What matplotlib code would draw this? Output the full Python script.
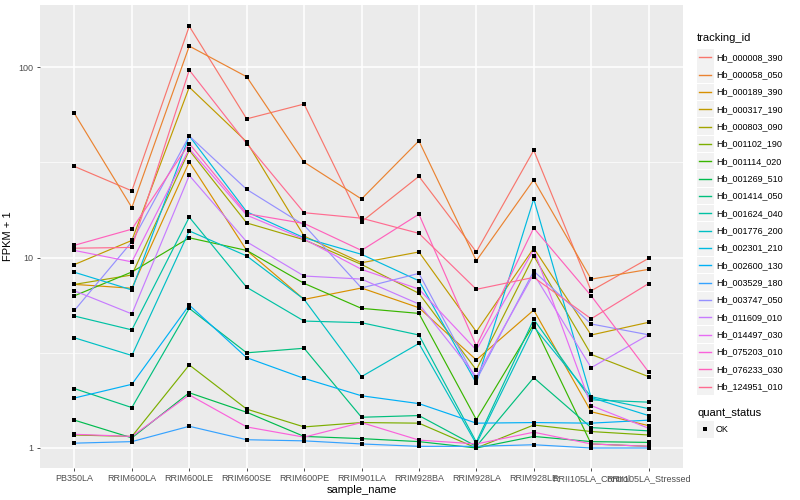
import numpy as np
import matplotlib
matplotlib.use('Agg')
import matplotlib.pyplot as plt
from matplotlib.patches import Rectangle

plt.rcParams['font.family'] = ['Liberation Sans', 'DejaVu Sans']

# %% data (FPKM + 1)
samples = ['PB350LA', 'RRIM600LA', 'RRIM600LE', 'RRIM600SE', 'RRIM600PE',
           'RRIM901LA', 'RRIM928BA', 'RRIM928LA', 'RRIM928LE',
           'RRII105LA_Control', 'RRII105LA_Stressed']

tracking_ids = ['Hb_000008_390', 'Hb_000058_050', 'Hb_000189_390', 'Hb_000317_190',
                'Hb_000803_090', 'Hb_001102_190', 'Hb_001114_020', 'Hb_001269_510',
                'Hb_001414_050', 'Hb_001624_040', 'Hb_001776_200', 'Hb_002301_210',
                'Hb_002600_130', 'Hb_003529_180', 'Hb_003747_050', 'Hb_011609_010',
                'Hb_014497_030', 'Hb_075203_010', 'Hb_076233_030', 'Hb_124951_010']

colors = ['#F8766D', '#EA8331', '#D89000', '#C09B00', '#A3A500', '#7CAE00',
          '#39B600', '#00BB4E', '#00BF7D', '#00C1A3', '#00BFC4', '#00BAE0',
          '#00B0F6', '#35A2FF', '#9590FF', '#C77CFF', '#E76BF3', '#FA62DB',
          '#FF62BC', '#FF6C91']

hb_000008_390 = [30.1, 22.4, 164, 53.5, 64, 15.4, 26.7, 10.7, 36.6, 6.69, 9.9]
hb_000058_050 = [57.1, 18.3, 129, 89, 31.7, 20.3, 41, 9.62, 25.6, 7.7, 8.67]
hb_000189_390 = [7.23, 6.9, 31.8, 10.9, 6.03, 6.92, 5.45, 2.90, 5.30, 1.55, 1.31]
hb_000317_190 = [9.19, 12.3, 78.5, 40.5, 12.97, 9.39, 10.7, 4.08, 11.2, 3.92, 4.57]
hb_000803_090 = [7.23, 8.1, 36.6, 15.2, 12.4, 9.2, 6.49, 2.57, 10.2, 3.10, 2.37]
hb_001102_190 = [1.17, 1.15, 2.73, 1.60, 1.29, 1.36, 1.35, 1.0, 1.32, 1.22, 1.17]
hb_001114_020 = [6.30, 8.4, 12.7, 10.9, 7.32, 5.41, 5.09, 1.41, 4.46, 1.05, 1.02]
hb_001269_510 = [1.40, 1.13, 1.95, 1.54, 1.15, 1.12, 1.08, 1.0, 1.15, 1.08, 1.07]
hb_001414_050 = [2.05, 1.63, 5.41, 3.16, 3.34, 1.45, 1.48, 1.02, 2.34, 1.28, 1.23]
hb_001624_040 = [4.93, 4.17, 16.3, 6.98, 4.64, 4.55, 3.92, 1.075, 4.74, 1.79, 1.74]
hb_001776_200 = [3.79, 3.06, 13.8, 10.2, 6.03, 2.37, 3.54, 1.05, 4.33, 1.86, 1.61]
hb_002301_210 = [8.37, 6.76, 43.5, 17.4, 12.7, 10.4, 7.55, 2.19, 20.3, 1.84, 1.48]
hb_002600_130 = [1.83, 2.16, 5.63, 2.98, 2.32, 1.88, 1.71, 1.35, 1.36, 1.35, 1.40]
hb_003529_180 = [1.06, 1.08, 1.30, 1.105, 1.09, 1.05, 1.02, 1.02, 1.04, 1.0, 1.0]
hb_003747_050 = [5.28, 12.1, 43.5, 22.8, 14.8, 6.92, 8.26, 2.27, 8.49, 4.48, 3.93]
hb_011609_010 = [6.69, 5.06, 27.0, 12.1, 8.0, 7.71, 5.7, 2.37, 8.2, 2.64, 3.93]
hb_014497_030 = [10.9, 9.49, 37.3, 16.7, 12.5, 8.67, 6.83, 3.27, 11.0, 1.67, 1.27]
hb_075203_010 = [1.18, 1.15, 1.90, 1.29, 1.14, 1.36, 1.10, 1.05, 1.21, 1.05, 1.02]
hb_076233_030 = [11.6, 14.1, 39.7, 17.0, 15.1, 10.9, 16.9, 3.43, 14.3, 6.3, 2.51]
hb_124951_010 = [11.2, 11.3, 96.5, 39.7, 17.2, 16.1, 13.4, 6.81, 7.87, 4.77, 7.3]

series = [hb_000008_390, hb_000058_050, hb_000189_390, hb_000317_190,
          hb_000803_090, hb_001102_190, hb_001114_020, hb_001269_510,
          hb_001414_050, hb_001624_040, hb_001776_200, hb_002301_210,
          hb_002600_130, hb_003529_180, hb_003747_050, hb_011609_010,
          hb_014497_030, hb_075203_010, hb_076233_030, hb_124951_010]

# %% plot
fig = plt.figure(figsize=(8, 5), dpi=100)
ax = fig.add_axes([40 / 800, 32 / 500, 643 / 800, 463 / 500])
ax.set_facecolor('#EBEBEB')
for s in ax.spines.values():
    s.set_visible(False)

x = np.arange(len(samples))
for vals, col in zip(series, colors):
    ax.plot(x, vals, color=col, lw=0.85, zorder=3)
for vals in series:
    ax.plot(x, vals, ls='none', marker='s', ms=3.0, mew=0, color='black', zorder=4)

ax.set_yscale('log')
ax.set_ylim(0.785, 212)
ax.set_xlim(-0.6, len(samples) - 0.4)

ax.set_yticks([1, 10, 100])
ax.set_yticklabels(['1', '10', '100'])
ax.set_yticks([10 ** 0.5, 10 ** 1.5], minor=True)
ax.yaxis.set_minor_formatter(plt.NullFormatter())
ax.set_xticks(x)
ax.set_xticklabels(samples)

ax.grid(True, which='major', color='white', lw=1.1, zorder=1)
ax.grid(True, which='minor', axis='y', color='white', lw=0.5, zorder=1)
ax.set_axisbelow(True)
ax.tick_params(axis='both', which='major', length=2.5, width=0.6, color='#333333',
               labelsize=6.5, labelcolor='#4D4D4D', pad=2)
ax.tick_params(axis='y', which='minor', length=0)

ax.set_xlabel('sample_name', fontsize=8, labelpad=1)
ax.set_ylabel('FPKM + 1', fontsize=8, labelpad=4)

# %% legend (drawn in pixel coordinates)
lg = fig.add_axes([0, 0, 1, 1], facecolor='none')
lg.set_xlim(0, 800)
lg.set_ylim(500, 0)
lg.axis('off')

lg.text(697, 38, 'tracking_id', fontsize=8, va='center', ha='left')
y0, step = 57.3, 17.33
for i, (tid, col) in enumerate(zip(tracking_ids, colors)):
    yc = y0 + i * step
    lg.add_patch(Rectangle((697, yc - 8.2), 16.5, 16.4, facecolor='#F2F2F2',
                           edgecolor='none'))
    lg.plot([699, 711], [yc, yc], color=col, lw=1.0)
    lg.text(716, yc, tid, fontsize=6.5, va='center', ha='left')

lg.text(697, 413, 'quant_status', fontsize=8, va='center', ha='left')
lg.add_patch(Rectangle((697, 429.3 - 8.2), 16.5, 16.4, facecolor='#F2F2F2',
                       edgecolor='none'))
lg.plot([705], [429.3], marker='s', ms=3.0, mew=0, color='black')
lg.text(716, 429.3, 'OK', fontsize=6.5, va='center', ha='left')

fig.savefig('out.png', dpi=100)
